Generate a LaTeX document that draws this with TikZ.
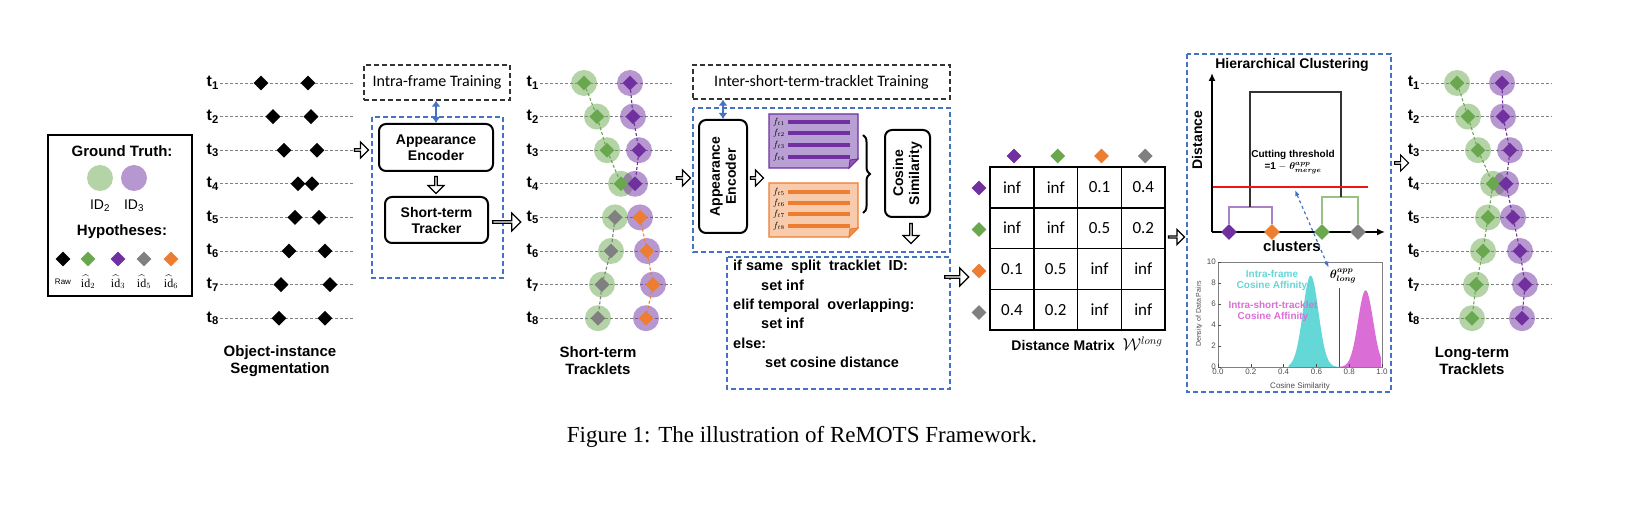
\documentclass[tikz,border=0pt]{standalone}
\usepackage{amsmath, amssymb}
\usepackage{fontspec}
\setmainfont{Liberation Serif}
\setsansfont{Liberation Sans}
\newfontfamily\calibri{Carlito}
\usepackage{tikz}
\usetikzlibrary{
    arrows.meta,
    shapes.geometric,
    shapes.arrows,
    decorations.pathreplacing,
    positioning
}

\definecolor{gtgreen}{RGB}{106,168,79}
\definecolor{gtpurple}{RGB}{112,48,160}
\definecolor{idgray}{RGB}{128,128,128}
\definecolor{idorange}{RGB}{237,125,49}
\definecolor{boxblue}{RGB}{68,114,196}
\definecolor{cardpurple}{RGB}{185,160,212}
\definecolor{cardorange}{RGB}{248,203,173}
\definecolor{histcyan}{RGB}{100,215,215}
\definecolor{histmagenta}{RGB}{218,110,214}
\definecolor{cutred}{RGB}{240,20,20}

\tikzset{
  sansb/.style={font=\sffamily\bfseries\fontsize{#1}{#1}\selectfont},
  sansr/.style={font=\sffamily\fontsize{#1}{#1}\selectfont},
  hyp/.style={diamond, fill=#1, inner sep=0pt, minimum size=15pt},
  gt/.style={circle, fill=#1, fill opacity=0.5, inner sep=0pt, minimum size=26pt},
  rowline/.style={dashed, dash pattern=on 3pt off 2pt, gray, line width=0.9pt},
  trackline/.style={dashed, dash pattern=on 3pt off 2pt, line width=1.1pt},
  tlabel/.style={sansb=16, anchor=east, inner sep=1pt},
  blockarr/.style={single arrow, draw, fill=white, line width=1.2pt, minimum height=#1,
    minimum width=16pt, single arrow head extend=3.5pt, inner sep=0pt},
  bluebox/.style={draw=boxblue, line width=1.2pt, dash pattern=on 5pt off 3pt},
  trainbox/.style={draw=black!80, line width=1.2pt, dash pattern=on 5pt off 3pt,
    font=\calibri\fontsize{16}{18}\selectfont},
  module/.style={draw, line width=2pt, rounded corners=7pt, align=center,
    font=\sffamily\bfseries\fontsize{14}{16}\selectfont},
  dblblue/.style={boxblue, line width=2.5pt, {Latex[length=6pt, width=9pt]}-{Latex[length=6pt, width=9pt]}},
  cell/.style={draw, line width=1.5pt, minimum width=43.75pt, minimum height=40.75pt,
    inner sep=0pt, font=\calibri\fontsize{17}{17}\selectfont},
  featlab/.style={inner sep=0pt, font=\fontsize{9}{9}\selectfont},
  ticklab/.style={sansr=8, text=black!70, inner sep=1pt}
}

\begin{document}
\begin{tikzpicture}[x=1pt, y=-1pt]
  \useasboundingbox (0,0) rectangle (1652,510);

  % Legend
  \node[draw, line width=2.2pt, minimum width=144pt, minimum height=161pt] (legend) at (120,215.5) {};
  \node[sansb=15] (gtitle) at (122,151) {Ground Truth:};
  \node[gt=gtgreen] (lgg) at (100,178) {};
  \node[gt=gtpurple] (lgp) at (134,178) {};
  \node[sansr=14] (lgid2) at (100,206) {ID\textsubscript{2}};
  \node[sansr=14] (lgid3) at (134,206) {ID\textsubscript{3}};
  \node[sansb=15] (htitle) at (122,232) {Hypotheses:};
  \foreach \k/\x/\col/\lab in {0/63/black/{\sffamily\fontsize{8}{8}\selectfont Raw},
      1/88/gtgreen/{$\widehat{\mathrm{id}}_2$}, 2/118/gtpurple/{$\widehat{\mathrm{id}}_3$},
      3/144/idgray/{$\widehat{\mathrm{id}}_5$}, 4/171/idorange/{$\widehat{\mathrm{id}}_6$}} {
    \node[hyp=\col] (lh\k) at (\x,259) {};
    \node[font=\fontsize{12}{12}\selectfont, inner sep=0pt] (lhl\k) at (\x,282) {\lab};
  }

  % Object-instance segmentation
  \foreach \i/\a/\b in {1/261/308, 2/273/311, 3/284/317, 4/298/312,
                        5/295/319, 6/289/325, 7/281/330, 8/279/325} {
    \pgfmathsetmacro{\y}{83+33.6*(\i-1)}
    \node[tlabel] (ot\i) at (220,\y) {t\textsubscript{\i}};
    \draw[rowline] (ot\i.east) -- (353,\y);
    \node[hyp=black] (oa\i) at (\a,\y) {};
    \node[hyp=black] (ob\i) at (\b,\y) {};
  }
  \node[sansb=15, align=center] (oseg) at (280,361) {Object-instance\\[2pt]Segmentation};

  % Short-term tracker
  \node[blockarr=14pt] (ar1) at (361,150) {};
  \node[trainbox, minimum width=146pt, minimum height=35pt] (intra) at (437,82.5) {Intra-frame Training};
  \draw[bluebox] (372,117) rectangle (503,278);
  \node[module, minimum width=114pt, minimum height=47pt] (enc1) at (436,147.5) {Appearance\\Encoder};
  \node[module, minimum width=103pt, minimum height=46pt] (trk) at (436.5,220) {Short-term\\Tracker};
  \draw[dblblue] (enc1.north) -- (enc1.north |- intra.south);
  \node[blockarr=17pt, rotate=-90] (ar2) at (436,184.5) {};
  \node[blockarr=28pt, minimum width=18pt] (ar3) at (506,222) {};

  % Short-term tracklets
  \foreach \i/\a/\b/\ca/\cb in {1/584/630/gtgreen/gtpurple, 2/597/633/gtgreen/gtpurple,
      3/607/639/gtgreen/gtpurple, 4/621/635/gtgreen/gtpurple, 5/615/640/idgray/idorange,
      6/611/647/idgray/idorange, 7/602/653/idgray/idorange, 8/598/646/idgray/idorange} {
    \pgfmathsetmacro{\y}{83+33.6*(\i-1)}
    \node[tlabel] (st\i) at (540,\y) {t\textsubscript{\i}};
    \draw[rowline] (st\i.east) -- (672,\y);
    \node[gt=gtgreen] (sgc\i) at (\a,\y) {};
    \node[gt=gtpurple] (spc\i) at (\b,\y) {};
    \node[hyp=\ca] (sg\i) at (\a,\y) {};
    \node[hyp=\cb] (sp\i) at (\b,\y) {};
  }
  \foreach \i/\j/\ca/\cb in {1/2/gtgreen/gtpurple, 2/3/gtgreen/gtpurple, 3/4/gtgreen/gtpurple,
      5/6/idgray/idorange, 6/7/idgray/idorange, 7/8/idgray/idorange} {
    \draw[trackline, color=\ca] (sg\i) -- (sg\j);
    \draw[trackline, color=\cb] (sp\i) -- (sp\j);
  }
  \node[sansb=15, align=center] (stt) at (598,361) {Short-term\\[2pt]Tracklets};

  % Inter-short-term-tracklet training
  \node[blockarr=14pt] (ar4) at (683,178) {};
  \node[trainbox, minimum width=257pt, minimum height=34pt] (inter) at (821.5,82) {Inter-short-term-tracklet Training};
  \draw[bluebox] (693,108) rectangle (950,252);
  \node[module, rotate=90, minimum width=113pt, minimum height=48pt] (enc2) at (723,176.5) {Appearance\\Encoder};
  \draw[dblblue] (enc2.east) -- (enc2.east |- inter.south);
  \node[blockarr=13pt] (ar5) at (756.5,178) {};

  % feature cards
  \filldraw[fill=cardpurple, draw=gtpurple, line width=1.2pt]
    (769,114) -- (858,114) -- (858,159) -- (849,168) -- (769,168) -- cycle;
  \filldraw[fill=gtpurple!80, draw=gtpurple, line width=1pt] (849,168) -- (850,160) -- (858,159) -- cycle;
  \foreach \k/\yy in {1/122, 2/133, 3/145, 4/157} {
    \draw[gtpurple, line width=4pt] (788,\yy) -- (850,\yy);
    \node[featlab] (fp\k) at (779,\yy) {$f_{t\k}$};
  }
  \filldraw[fill=cardorange, draw=idorange, line width=1.2pt]
    (769,183) -- (858,183) -- (858,228) -- (849,237) -- (769,237) -- cycle;
  \filldraw[fill=idorange!85, draw=idorange, line width=1pt] (849,237) -- (850,229) -- (858,228) -- cycle;
  \foreach \k/\yy in {5/192, 6/203, 7/214, 8/226} {
    \draw[idorange, line width=4pt] (788,\yy) -- (850,\yy);
    \node[featlab] (fo\k) at (779,\yy) {$f_{t\k}$};
  }
  \draw[line width=2pt, decorate, decoration={brace, amplitude=7pt}] (863,135) -- (863,213);
  \node[module, rotate=90, minimum width=87pt, minimum height=45pt] (cos) at (907.5,173.5) {Cosine\\Similarity};
  \node[blockarr=20pt, rotate=-90] (ar6) at (911,233) {};

  % distance rules
  \draw[bluebox] (727,257) rectangle (950,389);
  \node[anchor=north west, align=left, inner sep=2pt,
        font=\sffamily\bfseries\fontsize{14.5}{19.4}\selectfont] (rules) at (731,258)
    {if same \ split \ tracklet \ ID:\\
     \hspace*{28pt}set inf\\
     elif temporal \ overlapping:\\
     \hspace*{28pt}set inf\\
     else:\\
     \hspace*{32pt}set cosine distance};
  \node[blockarr=24pt, minimum width=18pt] (ar7) at (956,277) {};

  % Distance matrix
  \foreach \v [count=\n from 0] in {inf,inf,0.1,0.4, inf,inf,0.5,0.2, 0.1,0.5,inf,inf, 0.4,0.2,inf,inf} {
    \pgfmathtruncatemacro{\r}{int(\n/4)}
    \pgfmathtruncatemacro{\c}{mod(\n,4)}
    \node[cell] (m\r\c) at ({1012+43.75*\c},{187.4+40.75*\r}) {\v};
  }
  \foreach \c/\col in {0/gtpurple, 1/gtgreen, 2/idorange, 3/idgray} {
    \node[hyp=\col] (mh\c) at ({1014+43.75*\c},156) {};
    \node[hyp=\col] (mr\c) at (979,{188+41.5*\c}) {};
  }
  \node[inner sep=0pt] (mtitle) at (1087,344) {\sffamily\bfseries\fontsize{14}{14}\selectfont Distance Matrix \ \normalfont\fontsize{16}{16}\selectfont$\mathcal{W}^{long}$};
  \node[blockarr=16pt, minimum width=15pt] (ar8) at (1176,237) {};

  % Hierarchical clustering
  \draw[bluebox] (1187,54) rectangle (1391,392);
  \node[sansb=14] (hctitle) at (1292,65) {Hierarchical Clustering};
  \coordinate (org) at (1212,232);
  \draw[line width=2pt, -{Latex[length=8pt, width=7pt]}] (org) -- (1212,73);
  \draw[line width=2pt, -{Latex[length=8pt, width=7pt]}] (org) -- (1385,232);
  \node[sansb=14, rotate=90] (dist) at (1197,140) {Distance};
  \foreach \k/\x/\col in {1/1229/gtpurple, 2/1272/idorange, 3/1322/gtgreen, 4/1358/idgray}
    \node[hyp=\col, minimum size=16pt] (hc\k) at (\x,232) {};
  \draw[gtpurple!60, line width=1.6pt] (hc1.north) -- (1229,207) -- (1272,207) -- (hc2.north);
  \draw[gtgreen!70, line width=1.6pt] (hc3.north) -- (1322,197) -- (1358,197) -- (hc4.north);
  \draw[black!80, line width=1.6pt] (1250,207) -- (1250,92) -- (1341,92) -- (1341,197);
  \draw[cutred, line width=2.5pt] (1213,187) -- (1368,187);
  \coordinate (cut) at (1295,190);
  \node[align=center, inner sep=0pt, font=\sffamily\bfseries\fontsize{10}{12}\selectfont] (cuttxt) at (1293,162)
    {Cutting threshold\\=1 $-\ \boldsymbol{\theta^{app}_{merge}}$};
  \node[sansb=15] (clus) at (1292,246) {clusters};

  % histogram
  \draw[gray, line width=0.8pt] (1218,262) rectangle (1382,367);
  \fill[histcyan] ({1218+164*0.43},367) -- plot[domain=0.43:0.75, samples=60, smooth]
    ({1218+164*\x},{367-91.35*exp(-((\x-0.565)^2)/0.0045)}) -- ({1218+164*0.75},367) -- cycle;
  \fill[histmagenta] ({1218+164*0.74},367) -- plot[domain=0.74:0.995, samples=60, smooth]
    ({1218+164*\x},{367-76.65*exp(-((\x-0.9)^2)/0.0042)}) -- ({1218+164*0.995},367) -- cycle;
  \draw[red, line width=1pt] ({1218+164*0.74},367) -- ({1218+164*0.74},288);
  \foreach \v in {0,2,...,10} {
    \draw[black!70, line width=0.6pt] (1218,{367-10.5*\v}) -- (1221,{367-10.5*\v});
    \node[ticklab, anchor=east] (yt\v) at (1217,{367-10.5*\v}) {\v};
  }
  \foreach \v in {0.0,0.2,0.4,0.6,0.8,1.0} {
    \draw[black!70, line width=0.6pt] ({1218+164*\v},367) -- ({1218+164*\v},364);
    \node[ticklab, anchor=north] at ({1218+164*\v},368) {\v};
  }
  \node[sansr=8, text=black!70] (xlab) at (1300,386) {Cosine Similarity};
  \node[sansr=7, text=black!70, rotate=90] (ylab) at (1199,314) {Density of Data Pairs};
  \node[sansb=10, text=histcyan, align=center] (cyantxt) at (1272,280) {Intra-frame\\[1pt]Cosine Affinity};
  \node[sansb=10, text=histmagenta, align=center] (magtxt) at (1273,311) {Intra-short-tracklet\\[1pt]Cosine Affinity};
  \node[inner sep=1pt, font=\fontsize{12}{12}\selectfont] (thlong) at (1343,276) {$\boldsymbol{\theta^{app}_{long}}$};
  \draw[boxblue, line width=1.2pt, dashed, {Latex[length=6pt]}-{Latex[length=6pt]}] (cut) -- (thlong.north west);
  \node[blockarr=14pt] (ar9) at (1401,163) {};

  % Long-term tracklets
  \foreach \i/\a/\b in {1/1457/1502, 2/1468/1503, 3/1478/1510, 4/1493/1506,
                        5/1488/1513, 6/1483/1520, 7/1476/1525, 8/1472/1522} {
    \pgfmathsetmacro{\y}{83+33.6*(\i-1)}
    \node[tlabel] (lt\i) at (1421,\y) {t\textsubscript{\i}};
    \draw[rowline] (lt\i.east) -- (1552,\y);
    \node[gt=gtgreen] (lgc\i) at (\a,\y) {};
    \node[gt=gtpurple] (lpc\i) at (\b,\y) {};
    \node[hyp=gtgreen] (lg\i) at (\a,\y) {};
    \node[hyp=gtpurple] (lp\i) at (\b,\y) {};
  }
  \foreach \i [evaluate=\i as \j using int(\i+1)] in {1,...,7} {
    \draw[trackline, color=gtgreen] (lg\i) -- (lg\j);
    \draw[trackline, color=gtpurple] (lp\i) -- (lp\j);
  }
  \node[sansb=15, align=center] (ltt) at (1472,361) {Long-term\\[2pt]Tracklets};

  % Caption
  \node[font=\rmfamily\fontsize{23}{23}\selectfont] (caption) at (802,437) {Figure 1: The illustration of ReMOTS Framework.};
\end{tikzpicture}
\end{document}
